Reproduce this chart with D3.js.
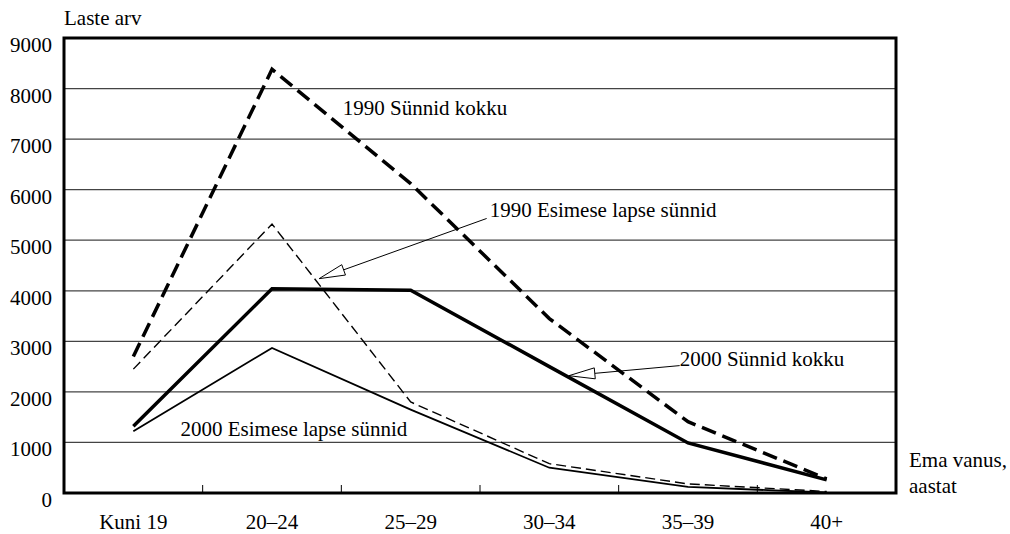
<!DOCTYPE html>
<html>
<head>
<meta charset="utf-8">
<script src="https://cdn.jsdelivr.net/npm/d3@7"></script>
<style>
  body { margin: 0; background: #fff; }
</style>
</head>
<body>
<div id="chart"></div>
<script>
  // Age groups of the mother
  const categories = ['Kuni 19', '20–24', '25–29', '30–34', '35–39', '40+'];
  const yTicks = [0, 1000, 2000, 3000, 4000, 5000, 6000, 7000, 8000, 9000];

  // Number of births per age group
  const births1990Total = [2700, 8380, 6120, 3450, 1410, 280];
  const births1990First = [2450, 5320, 1800, 580, 180, 30];
  const births2000Total = [1320, 4040, 4010, 2500, 990, 260];
  const births2000First = [1220, 2870, 1650, 500, 120, 10];

  const series = [
    { name: '1990 Sünnid kokku', values: births1990Total, width: 3.5, dash: '15,7' },
    { name: '1990 Esimese lapse sünnid', values: births1990First, width: 1.4, dash: '10,5' },
    { name: '2000 Sünnid kokku', values: births2000Total, width: 3.5, dash: null },
    { name: '2000 Esimese lapse sünnid', values: births2000First, width: 1.8, dash: null }
  ];

  // Annotations, positioned in data units (category index, value)
  const labels = [
    { text: '1990 Sünnid kokku', i: 1.51, v: 7480 },
    { text: '1990 Esimese lapse sünnid', i: 2.57, v: 5450 },
    { text: '2000 Sünnid kokku', i: 3.94, v: 2510 },
    { text: '2000 Esimese lapse sünnid', i: 0.34, v: 1130 }
  ];
  const arrows = [
    { from: [2.548, 5430], to: [1.34, 4240] },
    { from: [3.94, 2520], to: [3.141, 2320] }
  ];

  const width = 1010, height = 534;
  const margin = { top: 38, right: 114, bottom: 41, left: 64 };

  const svg = d3.select('#chart').append('svg')
    .attr('width', width)
    .attr('height', height);

  // all text in the serif face of the original
  const addText = sel => sel.append('text')
    .style('font-family', '"Liberation Serif"')
    .style('font-size', '21px')
    .attr('fill', '#000');

  const x = d3.scaleBand()
    .domain(categories)
    .range([margin.left, width - margin.right])
    .padding(0);

  const y = d3.scaleLinear()
    .domain([0, 9000])
    .range([height - margin.bottom, margin.top]);

  // x position by (fractional) category index
  const xi = d3.scaleLinear()
    .domain([0, categories.length - 1])
    .range([x(categories[0]) + x.bandwidth() / 2, x(categories[categories.length - 1]) + x.bandwidth() / 2]);

  // Gridlines
  svg.append('g')
    .selectAll('line')
    .data(yTicks.filter(t => t > 0 && t < 9000))
    .enter().append('line')
    .attr('x1', margin.left).attr('x2', width - margin.right)
    .attr('y1', d => y(d)).attr('y2', d => y(d))
    .attr('stroke', '#444')
    .attr('stroke-width', 1.2);

  // Series lines
  const line = d3.line()
    .x((d, i) => x(categories[i]) + x.bandwidth() / 2)
    .y(d => y(d));

  svg.append('g')
    .selectAll('path')
    .data(series)
    .enter().append('path')
    .attr('d', d => line(d.values))
    .attr('fill', 'none')
    .attr('stroke', '#000')
    .attr('stroke-width', d => d.width)
    .attr('stroke-dasharray', d => d.dash)
    .attr('stroke-linejoin', 'miter');

  // Frame
  svg.append('rect')
    .attr('x', margin.left).attr('y', margin.top)
    .attr('width', width - margin.left - margin.right)
    .attr('height', height - margin.top - margin.bottom)
    .attr('fill', 'none')
    .attr('stroke', '#000')
    .attr('stroke-width', 3);

  // Bottom axis: ticks between categories, pointing up
  const xAxis = svg.append('g')
    .attr('transform', `translate(0,${height - margin.bottom})`);
  xAxis.selectAll('line')
    .data(categories.slice(1))
    .enter().append('line')
    .attr('x1', d => x(d)).attr('x2', d => x(d))
    .attr('y1', 0).attr('y2', -8)
    .attr('stroke', '#000')
    .attr('stroke-width', 1);
  categories.forEach(c => {
    addText(xAxis)
      .attr('x', x(c) + x.bandwidth() / 2)
      .attr('y', 36)
      .attr('text-anchor', 'middle')
      .text(c);
  });

  // Y axis labels
  const yAxis = svg.append('g');
  yTicks.forEach(t => {
    addText(yAxis)
      .attr('x', margin.left - 12)
      .attr('y', y(t) + 14)
      .attr('text-anchor', 'end')
      .text(t);
  });

  // Axis titles
  addText(svg)
    .attr('x', margin.left)
    .attr('y', 25)
    .text('Laste arv');
  addText(svg)
    .attr('x', width - margin.right + 13)
    .attr('y', y(0) - 26)
    .text('Ema vanus,');
  addText(svg)
    .attr('x', width - margin.right + 13)
    .attr('y', y(0))
    .text('aastat');

  // Arrows with open triangular heads
  arrows.forEach(a => {
    const x1 = xi(a.from[0]), y1 = y(a.from[1]);
    const x2 = xi(a.to[0]), y2 = y(a.to[1]);
    const ang = Math.atan2(y1 - y2, x1 - x2);
    const len = 26, half = 5.5;
    const bx = x2 + len * Math.cos(ang), by = y2 + len * Math.sin(ang);
    const px = -Math.sin(ang) * half, py = Math.cos(ang) * half;
    svg.append('line')
      .attr('x1', x1).attr('y1', y1)
      .attr('x2', bx).attr('y2', by)
      .attr('stroke', '#000')
      .attr('stroke-width', 1);
    svg.append('path')
      .attr('d', `M${x2},${y2}L${bx + px},${by + py}L${bx - px},${by - py}Z`)
      .attr('fill', '#fff')
      .attr('stroke', '#000')
      .attr('stroke-width', 1);
  });

  // Series labels
  const labelG = svg.append('g');
  labels.forEach(l => {
    addText(labelG)
      .attr('x', xi(l.i))
      .attr('y', y(l.v))
      .text(l.text);
  });
</script>
</body>
</html>
